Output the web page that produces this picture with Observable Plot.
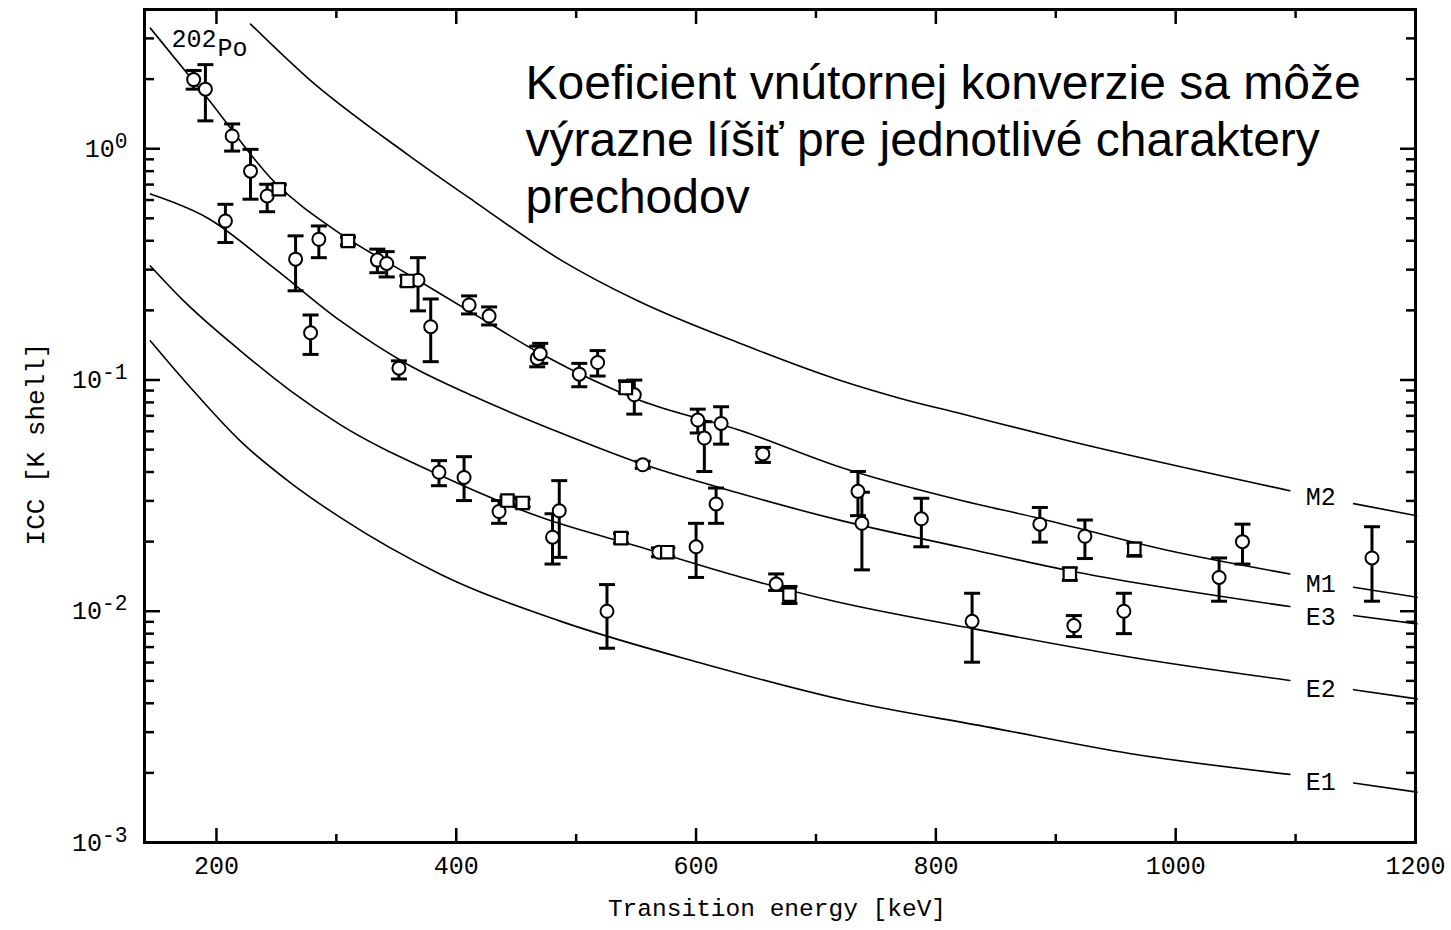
<!DOCTYPE html>
<html><head><meta charset="utf-8">
<script src="https://cdn.jsdelivr.net/npm/d3@7"></script>
<script src="https://cdn.jsdelivr.net/npm/@observablehq/plot@0.6"></script>
<style>
html,body{margin:0;padding:0;background:#fff;}
#chart{width:1451px;height:930px;}
</style></head><body><div id="chart"></div>
<script>
// ---- theoretical ICC curves (K shell), [energy keV, ICC] ----
const curveNames = ["M2", "M1", "E3", "E2", "E1"];
const curveM2 = [[228.4,3.46],[275.7,2.03],[359.2,0.946],[414.6,0.594],[487.3,0.330],[551.3,0.220],[637.6,0.1433],[721.1,0.0992],[771.2,0.0830],[821.3,0.0714],[910.4,0.0546],[1095.2,0.0332],[1148.4,0.0292],[1201,0.0259]];
const curveM1 = [[144.9,3.32],[192.2,1.661],[247.6,0.725],[303.5,0.428],[359.2,0.2875],[414.6,0.1932],[470.6,0.1298],[554.1,0.0813],[637.6,0.0603],[721.1,0.0418],[821.3,0.0301],[882.3,0.0255],[993.9,0.0183],[1095.2,0.0145],[1148.4,0.0127],[1201.3,0.01149]];
const curveE3 = [[144.9,0.637],[192.2,0.503],[247.6,0.306],[303.5,0.180],[359.2,0.117],[414.6,0.0850],[487.3,0.0590],[554.1,0.0435],[637.6,0.0322],[721.1,0.02465],[821.3,0.0189],[910.4,0.0150],[1095.2,0.01048],[1148.4,0.00958],[1201.3,0.00882]];
const curveE2 = [[144.9,0.3113],[172.7,0.2198],[220.0,0.1337],[261.8,0.0898],[303.5,0.0640],[387.1,0.0386],[470.6,0.02547],[554.1,0.0189],[637.6,0.01402],[712.7,0.01112],[831.9,0.00839],[962.7,0.00633],[1095.2,0.00502],[1148.4,0.00458],[1201.3,0.00418]];
const curveE1 = [[144.9,0.1477],[178.3,0.0928],[220.0,0.0544],[261.8,0.03593],[303.5,0.0254],[387.1,0.01443],[487.3,0.00904],[606.1,0.00593],[724.9,0.00411],[843.8,0.003154],[962.7,0.00242],[1095.2,0.00197],[1148.4,0.001807],[1201.3,0.001652]];
const curveData = [curveM2, curveM1, curveE3, curveE2, curveE1];
// curve label anchors (energy, ICC)
const labelE = 1121;
const labelV = [0.0313, 0.01317, 0.0094, 0.00459, 0.00182];

// ---- measured points: energy, ICC, lower, upper, marker ----
const ptE  = [181.0,190.8,213.1,228.4,242.3,252.0,207.5,266.0,285.4,309.7,334.2,342.0,359.2,368.1,378.7,410.7,427.4,278.5,352.2,467.5,470.0,502.6,517.9,541.5,548.5,601.4,606.9,620.9,555.5,655.7,616.7,735.0,738.3,787.9,666.8,677.9,480.3,485.9,537.4,569.0,576.0,600.0,525.7,385.6,406.5,435.7,442.7,455.3,886.7,924.3,965.5,911.7,830.2,915.1,956.8,1036.2,1055.7,1163.7];
const ptV  = [1.99,1.81,1.135,0.80,0.625,0.668,0.487,0.333,0.406,0.399,0.330,0.319,0.268,0.270,0.170,0.211,0.189,0.160,0.1125,0.124,0.130,0.106,0.119,0.0923,0.0863,0.0671,0.0561,0.0649,0.0430,0.0479,0.0291,0.0330,0.0240,0.0251,0.0131,0.0118,0.0209,0.0272,0.0207,0.0180,0.0180,0.0190,0.0100,0.0399,0.0379,0.0270,0.0301,0.0294,0.0238,0.0211,0.0186,0.0145,0.00905,0.00867,0.0100,0.0140,0.0200,0.0170];
const ptLo = [1.81,1.32,0.977,0.605,0.534,0.64,0.393,0.243,0.338,0.383,0.291,0.279,0.255,0.199,0.120,0.193,0.173,0.129,0.101,0.114,0.118,0.0935,0.104,0.088,0.0712,0.059,0.0402,0.0528,0.0415,0.044,0.024,0.0259,0.0151,0.019,0.0123,0.0108,0.016,0.0171,0.0197,0.0172,0.0172,0.0140,0.00692,0.0349,0.0301,0.024,0.029,0.0283,0.0199,0.0169,0.0173,0.0136,0.00602,0.00777,0.0080,0.01105,0.016,0.01105];
const ptHi = [2.18,2.31,1.28,0.994,0.702,0.70,0.575,0.420,0.4635,0.415,0.368,0.359,0.282,0.338,0.224,0.231,0.207,0.191,0.121,0.140,0.144,0.118,0.134,0.0992,0.0999,0.0748,0.066,0.0766,0.0445,0.0511,0.0341,0.0402,0.0327,0.0308,0.0145,0.0128,0.0264,0.0367,0.0217,0.0188,0.0188,0.024,0.01304,0.0448,0.0466,0.0301,0.0312,0.0305,0.0281,0.0248,0.0197,0.0154,0.01196,0.00958,0.01196,0.0170,0.0238,0.0232];
const ptShape = ["c","c","c","c","c","s","c","c","c","s","c","c","s","c","c","c","c","c","c","c","c","c","c","s","c","c","c","c","c","c","c","c","c","c","c","s","c","c","s","c","s","c","c","c","c","c","s","s","c","c","s","s","c","c","c","c","c","c"];

// ---- axes ticks ----
const xMajor = [200, 400, 600, 800, 1000, 1200];
const xMinor = [300, 500, 700, 900, 1100];
const yMajor = [1e-3, 1e-2, 1e-1, 1];
const yMinor = [1,2,3].flatMap(k => [2,3,4,5,6,7,8,9].map(m => m * Math.pow(10, -k))).concat([2, 3]);

const titleLines = ["Koeficient vnútornej konverzie sa môže", "výrazne líšiť pre jednotlivé charaktery", "prechodov"];
const isotopeMass = "202";
const isotopeSymbol = "Po";
const xTitle = "Transition energy [keV]";
const yTitle = "ICC [K shell]";

// ---- build tables ----
const curveRows = curveNames.flatMap((name, i) => curveData[i].map(([E, v]) => ({name, E, v, part: E < labelE ? "a" : "b"})));
const labelRows = curveNames.map((name, i) => ({name, E: labelE, v: labelV[i]}));
const points = ptE.map((E, i) => ({E, v: ptV[i], lo: ptLo[i], hi: ptHi[i], shape: ptShape[i]}));

const capSymbol = {draw(ctx, size) { const r = Math.sqrt(size / Math.PI); ctx.moveTo(-r, 0); ctx.lineTo(r, 0); }};
const mono = "Liberation Mono, DejaVu Sans Mono, monospace";

const plot = Plot.plot({
  width: 1451, height: 930,
  marginLeft: 144, marginRight: 36, marginTop: 9, marginBottom: 88,
  x: {domain: [140, 1200]},
  y: {type: "log", domain: [1e-3, 4]},
  style: {fontFamily: mono, fontSize: "24px", color: "#000", background: "#fff", overflow: "visible"},
  marks: [
    Plot.line(curveRows, {x: "E", y: "v", z: d => d.name + d.part, stroke: "#000", strokeWidth: 1.6, curve: "monotone-x"}),
    Plot.text(labelRows, {x: "E", y: "v", text: "name", fontFamily: mono, fontSize: 25, fill: "#000"}),
    Plot.ruleX(points, {x: "E", y1: "lo", y2: "hi", stroke: "#000", strokeWidth: 3}),
    Plot.dot(points, {x: "E", y: "lo", symbol: capSymbol, r: 8, stroke: "#000", strokeWidth: 3, fill: "none"}),
    Plot.dot(points, {x: "E", y: "hi", symbol: capSymbol, r: 8, stroke: "#000", strokeWidth: 3, fill: "none"}),
    Plot.dot(points.filter(d => d.shape === "c"), {x: "E", y: "v", r: 6.5, symbol: "circle", fill: "#fff", stroke: "#000", strokeWidth: 2}),
    Plot.dot(points.filter(d => d.shape === "s"), {x: "E", y: "v", r: 7, symbol: "square", fill: "#fff", stroke: "#000", strokeWidth: 2.2}),
    // ticks (inward) on all four sides
    Plot.axisX({anchor: "bottom", ticks: xMajor, tickSize: -14, fill: "none", label: null, strokeWidth: 2.5}),
    Plot.axisX({anchor: "bottom", ticks: xMinor, tickSize: -8, fill: "none", label: null, strokeWidth: 2.5}),
    Plot.axisX({anchor: "top", ticks: xMajor, tickSize: -14, fill: "none", label: null, strokeWidth: 2.5}),
    Plot.axisX({anchor: "top", ticks: xMinor, tickSize: -8, fill: "none", label: null, strokeWidth: 2.5}),
    Plot.axisY({anchor: "left", ticks: yMajor, tickSize: -16, fill: "none", label: null, strokeWidth: 2.5}),
    Plot.axisY({anchor: "left", ticks: yMinor, tickSize: -10, fill: "none", label: null, strokeWidth: 2.5}),
    Plot.axisY({anchor: "right", ticks: yMajor, tickSize: -16, fill: "none", label: null, strokeWidth: 2.5}),
    Plot.axisY({anchor: "right", ticks: yMinor, tickSize: -10, fill: "none", label: null, strokeWidth: 2.5}),
    // tick labels
    Plot.axisX({anchor: "bottom", ticks: xMajor, tickSize: 0, tickPadding: 14, label: null, fontSize: 25, tickFormat: d => String(d)}),
    Plot.axisY({anchor: "left", ticks: yMajor, tickSize: 0, tickPadding: 17, label: null, fontSize: 25, tickFormat: d => "10^" + Math.round(Math.log10(d))}),
    Plot.frame({stroke: "#000", strokeWidth: 3}),
    // titles
    Plot.text([xTitle], {frameAnchor: "bottom", dx: -3, dy: 66, textAnchor: "middle", lineAnchor: "middle", fontFamily: mono, fontSize: 24.5, fill: "#000"}),
    Plot.text([yTitle], {frameAnchor: "left", dx: -109, dy: 18, rotate: -90, textAnchor: "middle", lineAnchor: "middle", fontFamily: mono, fontSize: 26, fill: "#000"}),
    Plot.text([isotopeMass], {frameAnchor: "top-left", dx: 27, dy: 29, textAnchor: "start", lineAnchor: "middle", fontFamily: mono, fontSize: 25, fill: "#000"}),
    Plot.text([isotopeSymbol], {frameAnchor: "top-left", dx: 73, dy: 38, textAnchor: "start", lineAnchor: "middle", fontFamily: mono, fontSize: 25, fill: "#000"}),
    Plot.text([titleLines.join("\n")], {frameAnchor: "top-left", dx: 381, dy: 49, textAnchor: "start", lineAnchor: "top", lineHeight: 1.19, fontFamily: "Liberation Sans, Arial, sans-serif", fontSize: 48, fill: "#000"})
  ]
});

// superscript exponents on the y tick labels
d3.select(plot).selectAll('g[aria-label="y-axis tick label"] text').each(function () {
  const t = this.textContent;
  if (!t.includes("^")) return;
  const [b, e] = t.split("^");
  const sel = d3.select(this);
  sel.text(null);
  sel.append("tspan").text(b);
  sel.append("tspan").attr("dy", "-0.42em").attr("font-size", "0.85em").text(e);
});

document.getElementById("chart").appendChild(plot);
</script>
</body></html>
